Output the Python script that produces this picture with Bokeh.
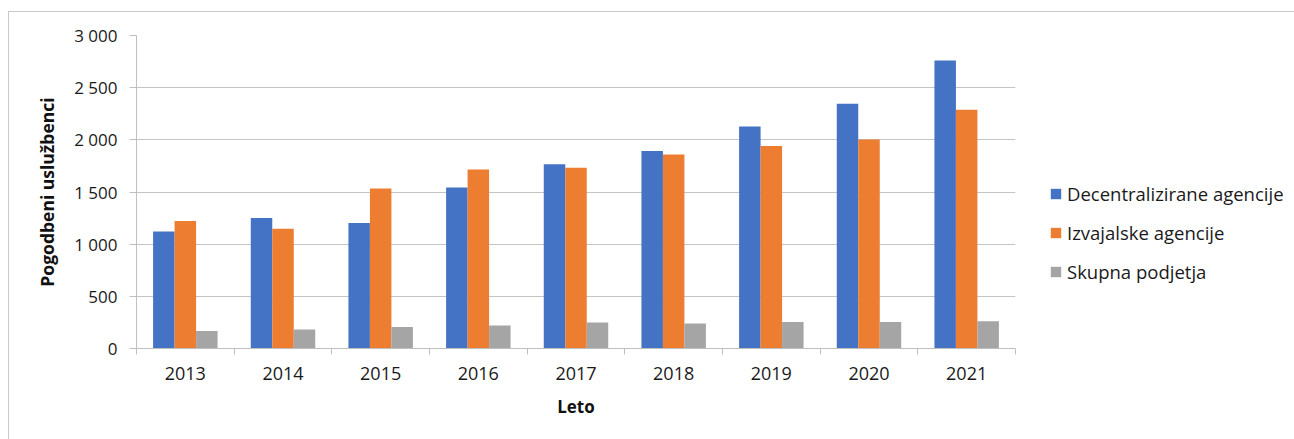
from bokeh.plotting import figure
from bokeh.models import (ColumnDataSource, FixedTicker, Range1d, Legend, LegendItem)
from bokeh.transform import dodge
from bokeh.embed import file_html
from bokeh.resources import INLINE

years = ["2013", "2014", "2015", "2016", "2017", "2018", "2019", "2020", "2021"]
decentralizirane = [1122, 1250, 1202, 1543, 1766, 1894, 2127, 2347, 2761]
izvajalske = [1221, 1148, 1534, 1715, 1732, 1859, 1942, 2002, 2289]
skupna = [168, 182, 207, 220, 249, 239, 255, 255, 261]
series_names = ["Decentralizirane agencije", "Izvajalske agencije", "Skupna podjetja"]
y_ticks = [0, 500, 1000, 1500, 2000, 2500, 3000]
y_tick_labels = ["0", "500", "1 000", "1 500", "2 000", "2 500", "3 000"]

colors = ["#4472C4", "#ED7D31", "#A5A5A5"]
FONT = "Open Sans"

centers = [i + 0.5 for i in range(len(years))]
src = ColumnDataSource(dict(x=centers, a=decentralizirane, b=izvajalske, c=skupna))

p = figure(frame_width=879, frame_height=313, output_backend="svg", toolbar_location=None,
           x_range=Range1d(0, len(years)), y_range=Range1d(0, 3000),
           min_border_left=127, min_border_right=279, min_border_top=23, min_border_bottom=91)
p.margin = (11, 0, 0, 8)
p.styles = {"border-top": "1px solid #c8c8c8", "border-left": "1px solid #c8c8c8"}
p.outline_line_color = None

w = 0.22
renderers = []
for col, off, c in zip(["a", "b", "c"], [-w, 0, w], colors):
    r = p.vbar(x=dodge("x", off, range=p.x_range), top=col, width=w, source=src,
               fill_color=c, line_color=None)
    renderers.append(r)

# x axis
xa = p.xaxis[0]
xa.ticker = FixedTicker(ticks=centers, minor_ticks=list(range(len(years) + 1)))
xa.major_label_overrides = {c: y for c, y in zip(centers, years)}
xa.major_tick_line_color = None
xa.major_tick_out = 0
xa.major_tick_in = 0
xa.minor_tick_line_color = "#bfbfbf"
xa.minor_tick_out = 6
xa.minor_tick_in = 0
xa.axis_line_color = "#bfbfbf"
xa.major_label_text_font = FONT
xa.major_label_text_font_size = "18px"
xa.major_label_text_color = "#1a1a1a"
xa.major_label_standoff = 12
xa.axis_label = "Leto"
xa.axis_label_text_font = FONT
xa.axis_label_text_font_style = "bold"
xa.axis_label_text_font_size = "17px"
xa.axis_label_text_color = "#111111"
xa.axis_label_standoff = 12

# y axis
ya = p.yaxis[0]
ya.ticker = FixedTicker(ticks=y_ticks)
ya.major_label_overrides = {t: l for t, l in zip(y_ticks, y_tick_labels)}
ya.major_tick_line_color = "#bfbfbf"
ya.major_tick_out = 7
ya.major_tick_in = 0
ya.minor_tick_line_color = None
ya.axis_line_color = "#bfbfbf"
ya.major_label_text_font = FONT
ya.major_label_text_font_size = "17px"
ya.major_label_text_color = "#1a1a1a"
ya.major_label_standoff = 12
ya.axis_label = "Pogodbeni uslužbenci"
ya.axis_label_text_font = FONT
ya.axis_label_text_font_style = "bold"
ya.axis_label_text_font_size = "17.5px"
ya.axis_label_text_color = "#111111"
ya.axis_label_standoff = 12

p.xgrid.grid_line_color = None
p.ygrid.grid_line_color = "#c4c4c4"
p.ygrid.ticker = FixedTicker(ticks=y_ticks)

legend = Legend(items=[LegendItem(label=n, renderers=[r]) for n, r in zip(series_names, renderers)],
                location=(34, 64), orientation="vertical",
                glyph_width=13, glyph_height=13, label_height=20, spacing=14,
                label_standoff=5, padding=0, margin=0,
                label_text_font=FONT, label_text_font_size="18.5px", label_text_color="#1a1a1a",
                border_line_color=None, background_fill_alpha=0)
p.add_layout(legend, "right")

open("out.html", "w").write(file_html(p, INLINE))
